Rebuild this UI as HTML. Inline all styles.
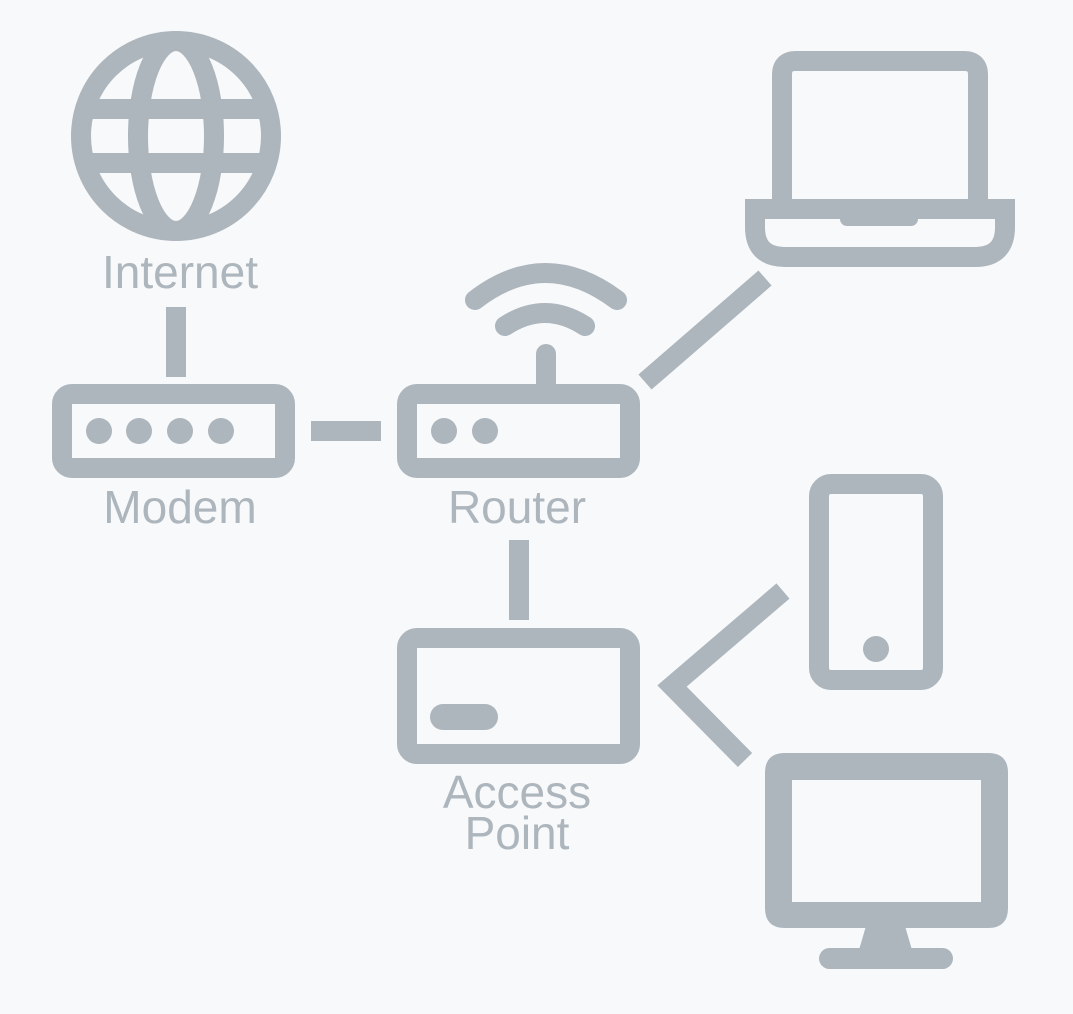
<!DOCTYPE html>
<html><head><meta charset="utf-8"><style>
html,body{margin:0;padding:0;background:#f8f9fa;}
svg{display:block;}
text{font-family:"Liberation Sans",sans-serif;font-size:46px;fill:#adb5bd;text-anchor:middle;}
</style></head><body>
<svg width="1073" height="1014" viewBox="0 0 1073 1014" xmlns="http://www.w3.org/2000/svg">
<rect width="1073" height="1014" fill="#f8f9fa"/>
<g fill="none" stroke="#adb5bd" stroke-width="20">
  <!-- globe -->
  <circle cx="176" cy="136" r="95"/>
  <ellipse cx="176" cy="136" rx="38" ry="95"/>
  <line x1="85" y1="109" x2="267" y2="109"/>
  <line x1="85" y1="163" x2="267" y2="163"/>
  <!-- modem -->
  <rect x="62" y="394" width="223" height="74" rx="10"/>
  <!-- router -->
  <rect x="407" y="394" width="223" height="74" rx="10"/>
  <path d="M505 326 Q545 300 585 326" stroke-linecap="round"/>
  <path d="M475 300 Q545 246 617 300" stroke-linecap="round"/>
  <line x1="546" y1="354" x2="546" y2="394" stroke-linecap="round"/>
  <!-- AP -->
  <rect x="407" y="638" width="223" height="116" rx="10"/>
  <line x1="443" y1="717" x2="485" y2="717" stroke-width="26" stroke-linecap="round"/>
  <!-- laptop -->
  <path d="M782 205 V75 Q782 61 796 61 H964 Q978 61 978 75 V205"/>
  <path d="M755 209 H1005 V227 Q1005 257 975 257 H785 Q755 257 755 227 Z"/>
  <!-- phone -->
  <rect x="819" y="484" width="114" height="196" rx="12"/>
  <!-- connectors -->
  <line x1="176" y1="307" x2="176" y2="377" stroke-linecap="butt"/>
  <line x1="311" y1="431" x2="381" y2="431"/>
  <line x1="519" y1="540" x2="519" y2="620"/>
  <line x1="645" y1="382" x2="765" y2="278"/>
  <polyline points="783,591 672,686 745,760" stroke-linejoin="miter"/>
</g>
<g fill="#adb5bd">
  <circle cx="99" cy="431" r="13"/><circle cx="139" cy="431" r="13"/>
  <circle cx="180" cy="431" r="13"/><circle cx="221" cy="431" r="13"/>
  <circle cx="444" cy="431" r="13"/><circle cx="485" cy="431" r="13"/>
  <rect x="840" y="212" width="78" height="14" rx="7"/>
  <circle cx="876" cy="649" r="13"/>
  <!-- monitor -->
  <path fill-rule="evenodd" d="M785 753 H988 Q1008 753 1008 773 V908 Q1008 928 988 928 H785 Q765 928 765 908 V773 Q765 753 785 753 Z M792 780 V902 H981 V780 Z"/>
  <polygon points="866,926 905,926 912,950 859,950"/>
  <rect x="819" y="948" width="134" height="21" rx="10.5"/>
</g>
<text x="180" y="288">Internet</text>
<text x="180" y="523">Modem</text>
<text x="517" y="523">Router</text>
<text x="517" y="808">Access</text>
<text x="517" y="849">Point</text>
</svg>
</body></html>
